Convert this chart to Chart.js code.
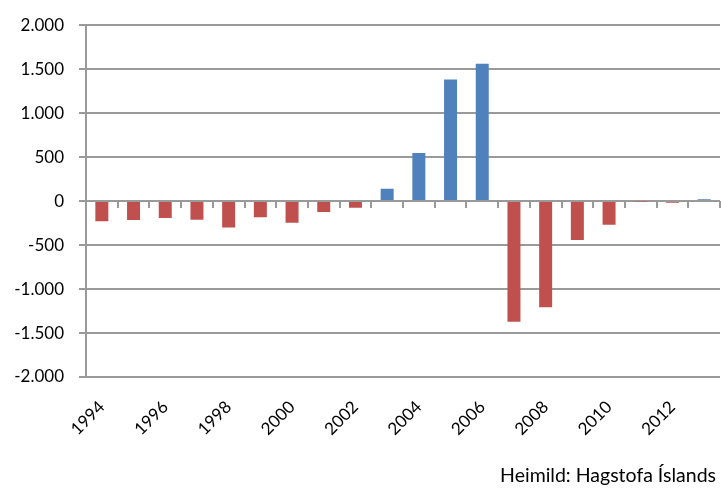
<!DOCTYPE html>
<html>
<head>
<meta charset="utf-8">
<script src="https://cdn.jsdelivr.net/npm/chart.js@4"></script>
<style>
  html, body { margin: 0; padding: 0; background: #fff; }
  #wrap { width: 721px; height: 491px; }
</style>
</head>
<body>
<div id="wrap"><canvas id="myChart" width="721" height="491"></canvas></div>
<script>
// Data
const years = ['1994', '1995', '1996', '1997', '1998', '1999', '2000', '2001', '2002', '2003',
               '2004', '2005', '2006', '2007', '2008', '2009', '2010', '2011', '2012', '2013'];
const values = [-230, -215, -192, -211, -300, -185, -245, -124, -75, 140,
                546, 1382, 1563, -1372, -1206, -441, -268, -4, -18, 20];
const yTicks = [-2000, -1500, -1000, -500, 0, 500, 1000, 1500, 2000];
const source = 'Heimild: Hagstofa Íslands';

const BLUE = '#4F81BD';
const RED = '#C0504D';
const GRID = '#9a9a9a';
const FONT = 'Lato, "Open Sans", sans-serif';

// 2.000 style numbers
function fmt(v) {
    const s = String(Math.abs(v)).replace(/\B(?=(\d{3})+(?!\d))/g, '.');
    return (v < 0 ? '-' : '') + s;
}

// small tick marks hanging under the zero line, between categories
const zeroTicks = {
    id: 'zeroTicks',
    beforeDatasetsDraw(chart) {
        const x = chart.scales.x, y = chart.scales.y;
        const y0 = y.getPixelForValue(0);
        const half = (x.getPixelForValue(1) - x.getPixelForValue(0)) / 2;
        const ctx = chart.ctx;
        ctx.save();
        ctx.strokeStyle = GRID;
        ctx.lineWidth = 2;
        for (let i = 0; i < years.length; i++) {
            const px = Math.round(x.getPixelForValue(i) + half);
            ctx.beginPath();
            ctx.moveTo(px, y0);
            ctx.lineTo(px, y0 + 7);
            ctx.stroke();
        }
        ctx.restore();
    }
};

const caption = {
    id: 'caption',
    afterDraw(chart) {
        const ctx = chart.ctx;
        ctx.save();
        ctx.font = '19.5px ' + FONT;
        ctx.fillStyle = '#000';
        ctx.textAlign = 'right';
        ctx.textBaseline = 'middle';
        ctx.fillText(source, 716, 476);
        ctx.restore();
    }
};

new Chart(document.getElementById('myChart').getContext('2d'), {
    type: 'bar',
    data: {
        labels: years,
        datasets: [{
            data: values,
            backgroundColor: values.map(v => v >= 0 ? BLUE : RED),
            categoryPercentage: 1,
            barPercentage: 0.41
        }]
    },
    options: {
        responsive: false,
        animation: false,
        layout: { padding: { top: 23, right: 1, left: 0, bottom: 0 } },
        plugins: { legend: { display: false }, tooltip: { enabled: false } },
        scales: {
            x: {
                afterFit(s) { s.height = 114; s.paddingLeft = 0; s.paddingRight = 0; },
                grid: { display: false },
                border: { display: false },
                ticks: {
                    autoSkip: false,
                    minRotation: 45,
                    maxRotation: 45,
                    padding: 12,
                    color: '#000',
                    font: { family: FONT, size: 17 },
                    callback(val, i) { return i % 2 === 0 ? years[i] : ''; }
                }
            },
            y: {
                min: -2000,
                max: 2000,
                afterFit(s) { s.width = 86; },
                afterBuildTicks(s) { s.ticks = yTicks.map(v => ({ value: v })); },
                grid: { color: GRID, lineWidth: 2, tickLength: 7 },
                border: { color: GRID, width: 2 },
                ticks: {
                    padding: 15,
                    color: '#000',
                    font: { family: FONT, size: 17 },
                    callback: v => fmt(v)
                }
            }
        }
    },
    plugins: [zeroTicks, caption]
});
</script>
</body>
</html>
